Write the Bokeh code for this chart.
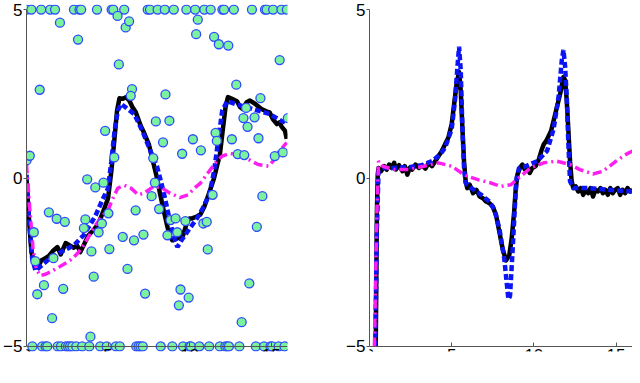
from bokeh.plotting import figure
from bokeh.layouts import row
from bokeh.models import FixedTicker, Range1d
from bokeh.embed import file_html
from bokeh.resources import INLINE

# ---------------- data: left panel ----------------
top_x = [0.0, 0.3, 0.9, 1.45, 1.75, 2.91, 3.25, 3.35, 4.32, 5.22, 5.32, 5.99, 7.43, 7.57,
         8.04, 8.48, 9.03, 9.8, 10.34, 10.9, 11.29, 12.01, 12.11, 12.71, 13.82, 14.62,
         14.72, 15.12, 15.63, 15.96]
bottom_x = [0.36, 0.96, 1.17, 1.27, 1.91, 2.11, 2.41, 2.55, 2.67, 2.81, 3.05, 3.41, 3.85,
            4.52, 4.92, 5.48, 5.72, 6.73, 6.87, 6.99, 7.13, 8.23, 8.94, 9.6, 10.0, 10.08,
            10.6, 11.2, 11.85, 12.19, 12.31, 12.41, 13.05, 14.06, 14.56, 14.96, 15.06,
            15.46, 15.82]
mid_x = [2.05, 3.16, 0.81, 5.58, 6.08, 6.29, 5.66, 6.47, 6.39, 8.52, 7.93, 8.76, 8.37, 7.77,
         7.87, 9.54, 10.2, 10.69, 10.5, 10.4, 11.5, 11.79, 12.37, 15.52, 12.86, 14.34,
         13.46, 13.3, 13.98, 13.55, 16.02, 14.22, 12.59, 11.59, 11.67, 12.95, 13.35, 15.22,
         15.72, 4.82, 5.38, 0.0, 0.2, 3.72, 4.22, 4.72,
         1.37, 1.85, 2.35, 3.61, 3.52, 4.62, 4.42, 5.02, 3.98, 5.08, 0.45, 0.54, 1.65, 1.07,
         0.66, 2.25, 1.57, 4.12, 3.92, 6.69, 5.9, 6.59, 7.17, 6.19, 7.27, 7.67, 8.13, 8.64,
         8.83, 9.14, 9.24, 9.74, 9.44, 9.34, 9.94, 10.84, 11.05, 11.41, 11.11, 14.46, 14.12,
         13.66, 13.19]
mid_y = [4.61, 4.11, 2.62, 4.81, 4.47, 4.65, 3.37, 2.64, 2.44, 2.48, 1.68, 1.70, 1.06, 0.59,
         -0.14, 0.72, 1.15, 0.82, 4.7, 4.27, 4.19, 3.97, 3.93, 3.5, 2.77, 2.37,
         2.08, 1.78, 1.8, 1.52, 1.78, 1.18, 1.15, 1.34, 1.1, 0.71, 0.68, 0.65,
         0.76, 1.4, 0.61, 0.52, 0.66, -0.04, -0.28, -0.14,
         -1.02, -1.21, -1.3, -1.23, -1.49, -1.35, -1.61, -1.05, -2.18, -2.11, -1.61, -2.47,
         -2.38, -3.18, -3.45, -3.29, -4.16, -2.93, -4.71, -0.96, -1.75, -1.85, -1.68, -2.7,
         -3.43, -0.54, -0.92, -1.70, -1.25, -1.2, -1.61, -1.28, -3.31, -3.78, -3.55, -1.35,
         -1.3, -0.5, -2.12, -0.54, -1.45, -3.13, -4.28]
obs_x = top_x + bottom_x + mid_x
obs_y = [5.0] * len(top_x) + [-5.0] * len(bottom_x) + mid_y

l_black_x = [0, 0.12, 0.3, 0.5, 0.7, 0.9, 1.1, 1.4, 1.65, 1.9, 2.1, 2.4, 2.65, 2.9, 3.1, 3.3,
             3.5, 3.65, 3.8, 4.1, 4.4, 4.7, 5.0, 5.2, 5.4, 5.55, 5.7, 5.9, 6.1, 6.3, 6.5, 6.7,
             6.85, 7.0, 7.2, 7.5, 7.8, 8.0, 8.2, 8.45, 8.65, 8.8, 8.95, 9.2, 9.4, 9.6, 9.85,
             10.0, 10.15, 10.4, 10.65, 10.9, 11.2, 11.5, 11.7, 11.85, 12.05, 12.2, 12.35, 12.6,
             12.9, 13.1, 13.25, 13.5, 13.7, 13.95, 14.1, 14.4, 14.7, 14.9, 15.1, 15.35, 15.5,
             15.65, 15.85, 15.95]
l_black_y = [0.0, -1.0, -2.2, -2.55, -2.65, -2.45, -2.4, -2.3, -2.15, -2.05, -2.27, -1.93,
             -2.0, -2.07, -2.0, -2.2, -2.0, -1.85, -1.7, -1.55, -1.37, -1.0, -0.6, 0.2, 1.2,
             2.0, 2.37, 2.35, 2.4, 2.3, 2.1, 1.95, 1.75, 1.55, 1.35, 1.0, 0.4, 0.0, -0.5, -1.05,
             -1.47, -1.75, -1.85, -1.8, -1.75, -1.7, -1.3, -1.2, -1.2, -1.15, -1.09, -0.85,
             -0.44, 0.0, 0.4, 0.68, 1.5, 2.1, 2.4, 2.35, 2.28, 2.1, 2.05, 2.25, 2.3, 2.22, 2.17,
             2.05, 1.98, 1.95, 1.75, 1.6, 1.65, 1.52, 1.4, 1.16]

l_blue_x = [0, 0.15, 0.35, 0.55, 0.8, 1.4, 2.1, 2.9, 3.5, 4.2, 4.7, 5.0, 5.2, 5.4, 5.6, 5.8,
            6.2, 6.6, 7.1, 7.6, 8.0, 8.4, 8.8, 9.1, 9.25, 9.5, 10.0, 10.45, 10.8, 11.2, 11.5,
            11.8, 12.0, 12.3, 12.8, 13.5, 14.2, 14.9, 15.6, 15.85]
l_blue_y = [0.1, -1.2, -2.4, -2.75, -2.65, -2.4, -2.2, -2.0, -1.7, -1.15, -0.6, -0.3, 0.5,
            1.4, 2.0, 2.2, 2.05, 1.9, 1.4, 0.8, 0.35, -0.4, -1.3, -1.85, -2.05, -1.85, -1.5,
            -1.2, -0.9, -0.5, 0.2, 1.3, 2.0, 2.28, 2.2, 2.1, 2.0, 1.9, 1.7, 1.65]

l_pink_x = [0, 0.2, 0.4, 0.6, 0.85, 1.2, 1.6, 2.0, 2.5, 2.8, 3.1, 3.4, 3.8, 4.3, 4.7, 5.0,
            5.3, 5.6, 6.0, 6.4, 6.85, 7.2, 7.8, 8.3, 8.8, 9.4, 9.9, 10.3, 10.65, 11.2, 11.65,
            12.0, 12.45, 13.0, 13.6, 14.2, 14.85, 15.2, 15.45, 15.95]
l_pink_y = [0.4, -0.9, -2.1, -2.7, -2.9, -2.85, -2.75, -2.64, -2.5, -2.4, -2.25, -2.07,
            -1.75, -1.35, -1.1, -0.95, -0.6, -0.3, -0.22, -0.3, -0.5, -0.45, -0.25, -0.3,
            -0.45, -0.58, -0.5, -0.3, -0.16, 0.2, 0.49, 0.65, 0.73, 0.68, 0.55, 0.4, 0.35,
            0.55, 0.77, 1.05]

# ---------------- data: right panel ----------------
r_black_x = [0.38, 0.45, 0.5, 0.55, 0.7, 0.9, 1.05, 1.2, 1.35, 1.5, 1.6, 1.8, 2.0, 2.15, 2.3,
             2.45, 2.6, 2.8, 3.0, 3.2, 3.4, 3.6, 3.8, 4.0, 4.2, 4.4, 4.6, 4.8, 5.0, 5.15, 5.3,
             5.45, 5.55, 5.65, 5.75, 5.85, 5.95, 6.1, 6.3, 6.5, 6.7, 6.9, 7.1, 7.3, 7.5, 7.7,
             7.9, 8.1, 8.3, 8.5, 8.65, 8.8, 8.9, 9.0, 9.15, 9.3, 9.45, 9.6, 9.75, 9.9, 10.1,
             10.3, 10.45, 10.6, 10.75, 10.9, 11.05, 11.2, 11.4, 11.6, 11.8, 11.9, 12.0, 12.1,
             12.2, 12.3, 12.4, 12.55, 12.7, 12.85, 13.0, 13.15, 13.3, 13.45, 13.6, 13.75, 13.9,
             14.05, 14.2, 14.35, 14.5, 14.65, 14.8, 14.95, 15.1, 15.25, 15.4, 15.55, 15.7,
             15.85, 16.0]
r_black_y = [-5.0, -1.0, 0.1, 0.3, 0.2, 0.35, 0.25, 0.4, 0.3, 0.45, 0.25, 0.38, 0.2, 0.35,
             0.1, 0.3, 0.25, 0.4, 0.3, 0.38, 0.28, 0.45, 0.35, 0.5, 0.65, 0.8, 1.0, 1.2, 1.6,
             2.2, 2.8, 3.15, 2.6, 1.5, 0.5, -0.1, -0.3, -0.2, -0.45, -0.35, -0.55, -0.6, -0.7,
             -0.75, -0.85, -1.1, -1.6, -2.1, -2.45, -2.3, -1.8, -1.0, -0.3, 0.1, 0.3, 0.4, 0.25,
             0.3, 0.15, 0.3, 0.35, 0.55, 0.8, 1.0, 1.1, 1.25, 1.4, 1.7, 2.1, 2.5, 3.0, 2.9, 2.3,
             1.4, 0.5, -0.1, -0.3, -0.25, -0.4, -0.3, -0.5, -0.35, -0.45, -0.3, -0.55, -0.35,
             -0.4, -0.3, -0.45, -0.35, -0.5, -0.3, -0.45, -0.35, -0.3, -0.5, -0.35, -0.45, -0.3,
             -0.4, -0.35]

r_blue_x = [0.35, 0.45, 0.55, 0.8, 1.5, 2.4, 3.2, 3.8, 4.3, 4.6, 5.0, 5.2, 5.35, 5.45, 5.55,
            5.65, 5.75, 5.85, 6.2, 6.8, 7.3, 7.6, 7.9, 8.2, 8.45, 8.55, 8.7, 8.85, 8.95, 9.1,
            9.5, 10.2, 10.8, 11.2, 11.5, 11.7, 11.8, 11.9, 12.0, 12.1, 12.2, 12.4, 13.4, 14.5,
            15.4, 16.0]
r_blue_y = [-5.0, -1.5, 0.2, 0.3, 0.3, 0.32, 0.38, 0.5, 0.7, 0.9, 1.45, 2.3, 3.3, 3.9, 3.2,
            1.5, 0.3, -0.15, -0.3, -0.5, -0.7, -0.95, -1.5, -2.4, -3.6, -3.5, -2.2, -0.8, 0.0,
            0.3, 0.35, 0.5, 0.8, 1.45, 2.4, 3.5, 3.8, 3.3, 2.4, 1.0, -0.1, -0.3, -0.3, -0.35,
            -0.38, -0.4]

r_pink_x = [0.3, 0.45, 0.55, 0.8, 1.5, 2.4, 3.3, 4.2, 5.0, 5.8, 6.6, 7.4, 8.0, 8.6, 9.2, 9.8,
            10.6, 11.4, 12.2, 12.8, 13.6, 14.2, 15.0, 15.6, 16.0]
r_pink_y = [-5.0, -1.0, 0.5, 0.35, 0.25, 0.25, 0.35, 0.45, 0.35, 0.08, -0.05, -0.15, -0.25,
            -0.2, 0.05, 0.3, 0.45, 0.5, 0.4, 0.25, 0.12, 0.2, 0.5, 0.7, 0.8]

x_ticks = [0, 5, 10, 15]
y_ticks = [-5, 0, 5]
y_tick_labels = {-5: "\u22125", 0: "0", 5: "5"}

FONT = "Liberation Sans"
FIG_H = 367


def make_fig(width, border_left, border_right):
    p = figure(width=width, height=FIG_H, output_backend="svg", toolbar_location=None,
               x_range=Range1d(0, 16), y_range=Range1d(-5.15, 5.15),
               min_border_left=border_left, min_border_right=border_right,
               min_border_top=4, min_border_bottom=16)
    p.grid.visible = False
    p.outline_line_color = None
    p.background_fill_color = "white"
    p.border_fill_color = "white"
    for ax in (p.xaxis[0], p.yaxis[0]):
        ax.axis_line_color = "#555555"
        ax.axis_line_width = 1
        ax.major_tick_line_color = "#555555"
        ax.minor_tick_line_color = None
        ax.major_label_text_font = FONT
        ax.major_label_text_font_size = "17px"
        ax.major_label_text_color = "black"
    p.xaxis.major_label_standoff = 3
    p.yaxis.major_label_standoff = 1
    p.xaxis.ticker = FixedTicker(ticks=x_ticks)
    p.yaxis.ticker = FixedTicker(ticks=y_ticks)
    p.yaxis.major_label_overrides = y_tick_labels
    p.xaxis.bounds = (0, 16)
    p.yaxis.bounds = (-5, 5)
    p.xaxis.fixed_location = -5
    p.xaxis.major_tick_in = 4
    p.xaxis.major_tick_out = 0
    p.yaxis.major_tick_in = 0
    p.yaxis.major_tick_out = 3
    return p


def add_lines(p, bx, by, ux, uy, mx, my):
    p.line(bx, by, line_color="black", line_width=4.5, line_join="round")
    p.line(ux, uy, line_color="#0A14F5", line_width=4.5, line_dash="6 3")
    p.line(mx, my, line_color="#FF1EF0", line_width=3.5, line_dash="9 4 2 4")


left = make_fig(337, 24, 50)
add_lines(left, l_black_x, l_black_y, l_blue_x, l_blue_y, l_pink_x, l_pink_y)
left.scatter(obs_x, obs_y, marker="circle", size=9, fill_color="#7DF29E",
             line_color="#2E4BFF", line_width=1.3)

right = make_fig(295, 32, 0)
add_lines(right, r_black_x, r_black_y, r_blue_x, r_blue_y, r_pink_x, r_pink_y)

layout = row(left, right)
open("out.html", "w").write(file_html(layout, INLINE))
